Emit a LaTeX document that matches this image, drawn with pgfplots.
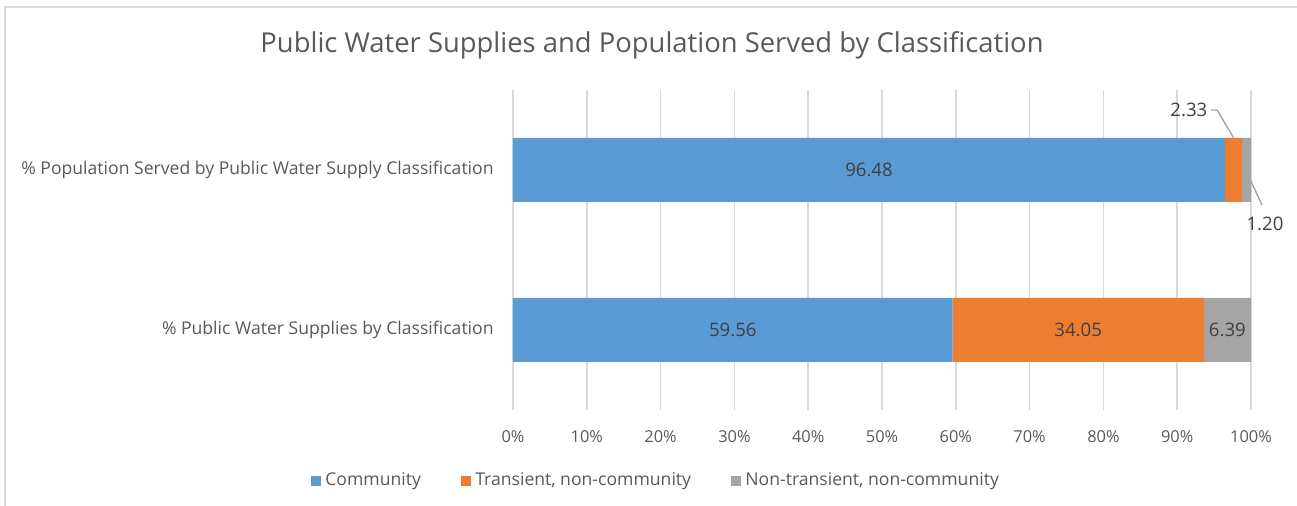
\documentclass[border=0pt]{standalone}
\usepackage{fontspec}
\setmainfont{Open Sans}
\usepackage{pgfplots}
\pgfplotsset{compat=1.18}

\definecolor{cblue}{HTML}{5B9BD5}
\definecolor{corange}{HTML}{ED7D31}
\definecolor{cgray}{HTML}{A5A5A5}
\definecolor{gridgray}{HTML}{D9D9D9}
\definecolor{txtgray}{HTML}{595959}
\definecolor{lblgray}{HTML}{404040}

\tikzset{vlbl/.style={font=\fontsize{9.3}{11}\selectfont, text=lblgray}}

\begin{document}
\begin{tikzpicture}
\useasboundingbox (0,0) rectangle (648.5pt,-253pt);
\draw[gridgray, line width=1pt] (2.5pt,-260pt) -- (2.5pt,-3.5pt) -- (655pt,-3.5pt);
\node[text=txtgray, font=\fontsize{13.7}{16}\selectfont] at (326pt,-22.5pt)
  {Public Water Supplies and Population Served by Classification};
\begin{axis}[
  at={(256.5pt,-205pt)}, anchor=south west,
  scale only axis, width=369pt, height=160pt,
  xbar stacked, bar width=32pt,
  xmin=0, xmax=100, ymin=-0.5, ymax=1.5,
  xtick={0,10,...,100},
  xticklabel={\pgfmathprintnumber[assume math mode=true]{\tick}\%},
  ytick={0,1},
  yticklabels={\% Public Water Supplies by Classification,
               \% Population Served by Public Water Supply Classification},
  xmajorgrids, grid style={gridgray, line width=0.75pt},
  axis line style={draw=none},
  major tick length=0pt,
  xticklabel style={anchor=north, inner sep=0pt, yshift=-10pt,
    font=\fontsize{8.2}{10}\selectfont, text=txtgray},
  yticklabel style={anchor=east, inner sep=0pt, xshift=-9.5pt,
    font=\fontsize{8.8}{10}\selectfont, text=txtgray},
  legend style={at={(0.195,-0.222)}, anchor=center, draw=none,
    font=\fontsize{8.8}{10}\selectfont, text=txtgray,
    /tikz/every even column/.append style={column sep=18pt}},
  legend columns=-1,
  legend image code/.code={\fill[#1] (0pt,-2.6pt) rectangle (5.2pt,2.6pt);},
  clip=false,
  after end axis/.code={
    \node[vlbl] at (axis cs:29.78,0) {59.56};
    \node[vlbl] at (axis cs:76.585,0) {34.05};
    \node[vlbl] at (axis cs:96.805,0) {6.39};
    \node[vlbl] at (axis cs:48.24,1) {96.48};
    \node[vlbl, anchor=east, inner sep=1pt] at (axis cs:94.4,1.375) {2.33};
    \node[vlbl, anchor=north, inner sep=1pt] at (axis cs:101.9,0.72) {1.20};
    \draw[cgray, line width=0.7pt] (axis cs:94.6,1.375) -- (axis cs:95.4,1.375) -- (axis cs:97.65,1.2);
    \draw[cgray, line width=0.7pt] (axis cs:99.4,0.99) -- (axis cs:101.5,0.78);
  },
]
\addplot[fill=cblue, draw=none] coordinates {(59.56,0) (96.48,1)};
\addlegendentry{Community}
\addplot[fill=corange, draw=none] coordinates {(34.05,0) (2.33,1)};
\addlegendentry{Transient, non-community}
\addplot[fill=cgray, draw=none] coordinates {(6.39,0) (1.20,1)};
\addlegendentry{Non-transient, non-community}
\end{axis}
\end{tikzpicture}
\end{document}
